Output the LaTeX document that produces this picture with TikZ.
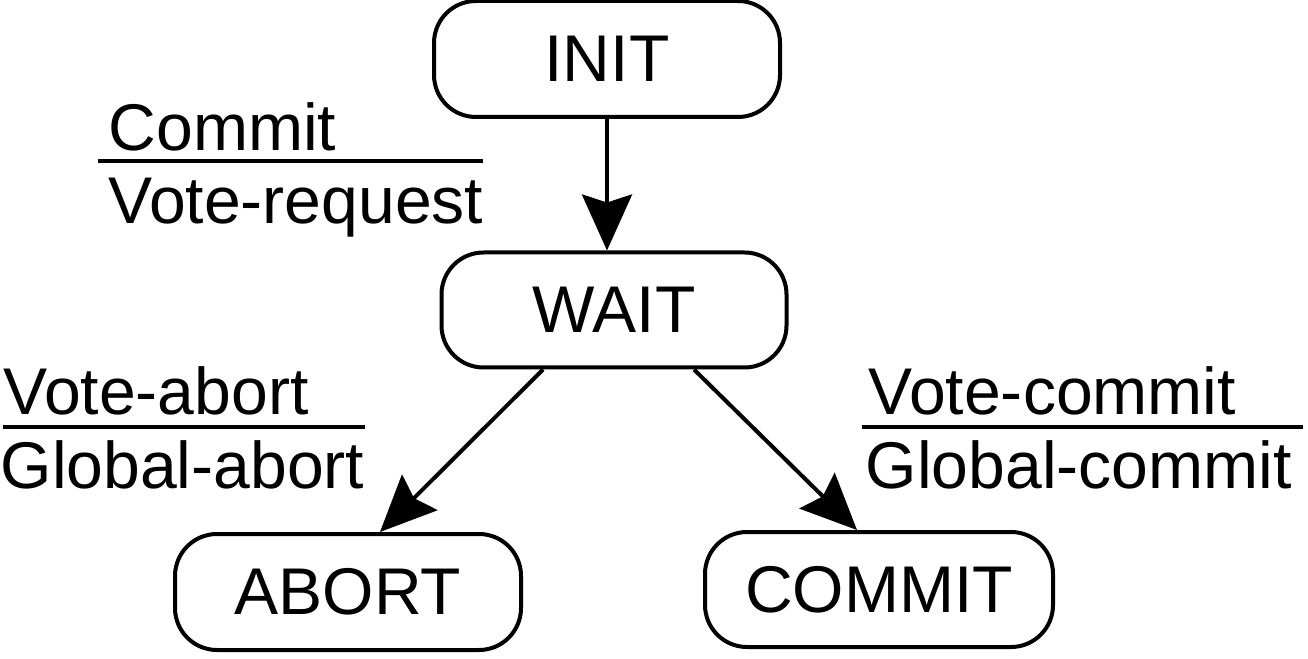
\documentclass[tikz,border=0pt]{standalone}
\usepackage{fontspec}
\setmainfont{Liberation Sans}
\usetikzlibrary{arrows.meta}
\tikzset{
	state/.style={draw, line width=0.04cm, rounded corners=0.42cm, minimum width=3.46cm, minimum height=1.16cm, inner sep=0pt, font=\fontsize{18.8pt}{22pt}\selectfont},
	lbl/.style={inner sep=0pt, anchor=base west, font=\fontsize{18.8pt}{22pt}\selectfont},
	trans/.style={line width=0.04cm, -{Stealth[length=5.6mm, width=5mm, inset=0.8mm]}},
	bar/.style={line width=0.04cm}
}

\begin{document}
\begin{tikzpicture}
		%%%%% START %%%%%
		\useasboundingbox (0, 0) rectangle (13.08, 6.58);
		
		\node[state] (init) at (6.07, 5.99) {INIT};
		\node[state, minimum width=3.45cm, minimum height=1.15cm] (wait) at (6.14, 3.48) {WAIT};
		\node[state] (abort) at (3.48, 0.66) {ABORT};
		\node[state, minimum width=3.48cm, minimum height=1.15cm] (commit) at (8.79, 0.685) {COMMIT};
		
		\draw[trans] (init.south) -- (init.south |- wait.north);
		\draw[trans] ([xshift=-7.1mm]wait.south) -- ([xshift=3.2mm]abort.north);
		\draw[trans] ([xshift=8mm]wait.south) -- ([xshift=-2.2mm]commit.north);
		
		\node[lbl] (cmt) at (1.08, 5.07) {Commit};
		\node[lbl] (vreq) at (1.08, 4.34) {Vote-request};
		\draw[bar] (0.98, 4.97) -- (4.83, 4.97);
		
		\node[lbl] (vabort) at (0.03, 2.43) {Vote-abort};
		\node[lbl] (gabort) at (0.0, 1.70) {Global-abort};
		\draw[bar] (0.03, 2.31) -- (3.65, 2.31);
		
		\node[lbl] (vcommit) at (8.68, 2.43) {Vote-commit};
		\node[lbl] (gcommit) at (8.65, 1.70) {Global-commit};
		\draw[bar] (8.62, 2.31) -- (13.03, 2.31);
		
		%%%%% END %%%%%
	\end{tikzpicture}
\end{document}
